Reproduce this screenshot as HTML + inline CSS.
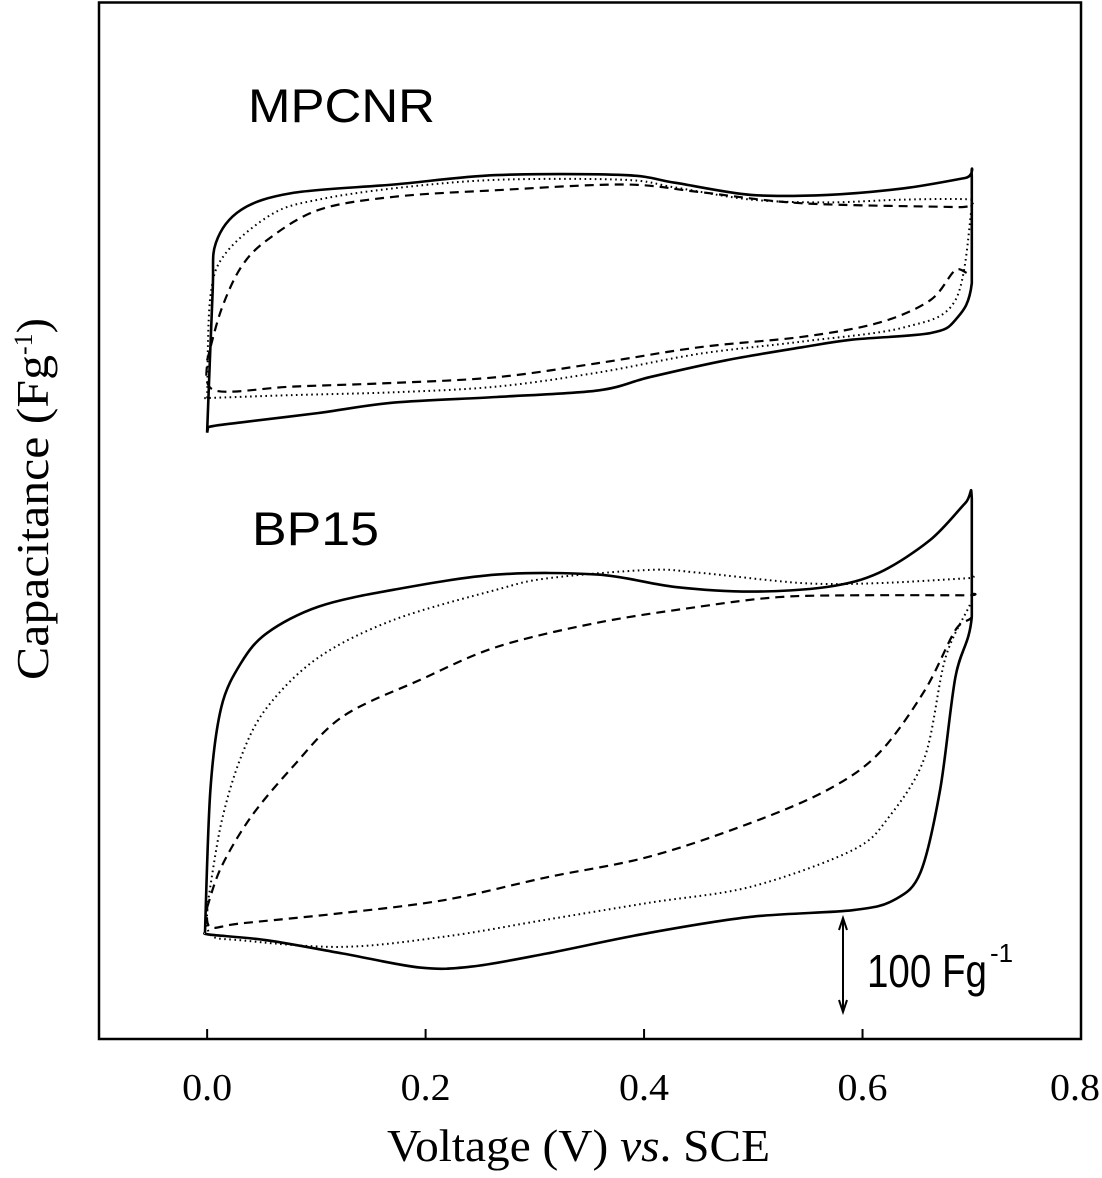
<!DOCTYPE html>
<html><head><meta charset="utf-8"><style>
html,body{margin:0;padding:0;background:#fff;}
svg{display:block;}
</style></head><body>
<svg id="chart" width="1102" height="1178" viewBox="0 0 1102 1178" xmlns="http://www.w3.org/2000/svg">
<rect x="0" y="0" width="1102" height="1178" fill="#fff"/>
<rect x="99" y="2.5" width="982" height="1036.5" fill="none" stroke="#000" stroke-width="2.5"/>
<g id="ticks"></g>
<g id="curves"></g>
<text x="248" y="122" font-family="Liberation Sans, sans-serif" font-size="47" textLength="187" lengthAdjust="spacingAndGlyphs">MPCNR</text>
<text x="252" y="545" font-family="Liberation Sans, sans-serif" font-size="47" textLength="127" lengthAdjust="spacingAndGlyphs">BP15</text>
<g stroke="#000" stroke-width="2" fill="none">
<line x1="843" y1="918" x2="843" y2="1012"/>
<polyline points="839,930 843,918 847,930"/>
<polyline points="839,1000 843,1012 847,1000"/>
</g>
<text x="867" y="987" font-family="Liberation Sans, sans-serif" font-size="46" textLength="120" lengthAdjust="spacingAndGlyphs">100 Fg</text>
<text x="990" y="962" font-family="Liberation Sans, sans-serif" font-size="26">-1</text>
<text x="387" y="1161" font-family="Liberation Serif, serif" font-size="46" textLength="383" lengthAdjust="spacingAndGlyphs">Voltage (V) <tspan font-style="italic">vs</tspan>. SCE</text>
<text transform="translate(48,680) rotate(-90)" font-family="Liberation Serif, serif" font-size="46"><tspan textLength="325" lengthAdjust="spacingAndGlyphs">Capacitance (Fg</tspan><tspan dy="-16" font-size="26">-1</tspan><tspan dy="16">)</tspan></text>
</svg>
<script>
const xTicks=[0.0,0.2,0.4,0.6,0.8];
const xTickLabels=["0.0","0.2","0.4","0.6","0.8"];
// MPCNR solid
const mpSolidV=[0,0.005,0.008,0.031,0.078,0.171,0.265,0.382,0.428,0.498,0.568,0.638,0.694,0.7,0.7,0.685,0.662,0.591,0.545,0.475,0.405,0.358,0.265,0.171,0.102,0.031,0.001,0];
const mpSolidC=[645,794,847,882,900,909,919,919,911,898,898,905,916,918,804,765,751,744,736,722,704,690,683,677,666,656,651,645];
// MPCNR dotted
const mpDotV=[0,0.003,0.017,0.06,0.102,0.171,0.265,0.382,0.428,0.498,0.568,0.638,0.7,0.7,0.685,0.638,0.545,0.451,0.358,0.265,0.171,0.078,0.003,0];
const mpDotC=[682,790,836,878,893,905,914,914,906,893,890,893,893,885,786,757,742,729,709,694,688,685,682,682];
// MPCNR dashed
const mpDashV=[0,0.013,0.031,0.055,0.102,0.171,0.265,0.382,0.451,0.545,0.685,0.7,0.7,0.685,0.662,0.615,0.545,0.451,0.358,0.265,0.171,0.078,0.007,0];
const mpDashC=[722,776,821,850,882,896,903,909,901,889,885,884,818,818,786,762,747,736,719,704,698,694,690,722];
// BP15 solid
const bpSolidV=[-0.002,0.003,0.013,0.031,0.055,0.102,0.171,0.265,0.358,0.428,0.498,0.568,0.615,0.662,0.694,0.7,0.7,0.685,0.671,0.653,0.629,0.591,0.498,0.405,0.311,0.242,0.195,0.124,0.055,0.003,-0.002];
const bpSolidC=[113,265,353,400,432,460,478,494,494,481,476,481,496,531,570,575,449,385,265,177,148,137,130,113,91,77,76,91,105,111,113];
// BP15 dotted
const bpDotV=[0,0.013,0.031,0.055,0.102,0.171,0.265,0.311,0.405,0.451,0.545,0.615,0.694,0.7,0.7,0.676,0.657,0.624,0.591,0.498,0.405,0.311,0.218,0.124,0.031,0.003,0];
const bpDotC=[140,230,300,353,406,446,478,490,499,496,485,485,490,490,467,406,300,236,201,162,145,127,109,98,105,111,140];
// BP15 dashed
const bpDashV=[0,0.013,0.040,0.078,0.124,0.195,0.265,0.358,0.451,0.522,0.591,0.694,0.7,0.7,0.685,0.657,0.615,0.568,0.498,0.405,0.311,0.218,0.124,0.031,0.003,0];
const bpDashC=[140,183,236,289,343,382,417,443,460,470,472,472,472,449,435,371,304,265,230,194,172,148,134,123,119,140];

const X0=-0.099,X1=0.8,PX0=99,PX1=1081;
function xScale(v){return PX0+(v-X0)/(X1-X0)*(PX1-PX0);}
function yScale(c){return 1039-c*0.94;}
const NS="http://www.w3.org/2000/svg";
const tickG=document.getElementById('ticks');
xTicks.forEach((t,i)=>{
  const x=xScale(t);
  if(i<xTicks.length-1){
    const l=document.createElementNS(NS,'line');
    
    
    l.setAttribute('x1',x);l.setAttribute('x2',x);l.setAttribute('y1',1039);l.setAttribute('y2',1029);
    l.setAttribute('stroke','#000');l.setAttribute('stroke-width','2');
    tickG.appendChild(l);
  }
  const tx=document.createElementNS(NS,'text');
  
  
  tx.setAttribute('x',Math.min(x,1075));tx.setAttribute('y',1100);
  tx.setAttribute('text-anchor','middle');
  tx.setAttribute('font-family','Liberation Serif, serif');
  tx.setAttribute('font-size','38');
  tx.setAttribute('textLength','50');
  tx.setAttribute('lengthAdjust','spacingAndGlyphs');
  tx.textContent=xTickLabels[i];
  tickG.appendChild(tx);
});
function smoothPath(vs,cs){
  const p=vs.map((v,i)=>[xScale(v),yScale(cs[i])]);
  let d='M'+p[0][0].toFixed(1)+','+p[0][1].toFixed(1);
  for(let i=0;i<p.length-1;i++){
    const a=p[Math.max(0,i-1)],b=p[i],c=p[i+1],e=p[Math.min(p.length-1,i+2)];
    const sharp=Math.abs(b[0]-c[0])<3;
    if(sharp){d+=' L'+c[0].toFixed(1)+','+c[1].toFixed(1);continue;}
    const t=0.16;
    const c1=[b[0]+(c[0]-a[0])*t,b[1]+(c[1]-a[1])*t];
    const c2=[c[0]-(e[0]-b[0])*t,c[1]-(e[1]-b[1])*t];
    d+=' C'+c1[0].toFixed(1)+','+c1[1].toFixed(1)+' '+c2[0].toFixed(1)+','+c2[1].toFixed(1)+' '+c[0].toFixed(1)+','+c[1].toFixed(1);
  }
  return d;
}
const g=document.getElementById('curves');
function addCurve(vs,cs,name,dash,w){
  const p=document.createElementNS(NS,'path');
  
  
  p.setAttribute('d',smoothPath(vs,cs));
  p.setAttribute('fill','none');
  p.setAttribute('stroke','#000');
  p.setAttribute('stroke-width',w);
  if(dash)p.setAttribute('stroke-dasharray',dash);
  g.appendChild(p);
}
addCurve(mpDotV,mpDotC,'mpcnr-dotted-curve','1.6,3.5','2');
addCurve(mpDashV,mpDashC,'mpcnr-dashed-curve','9,6','2.2');
addCurve(mpSolidV,mpSolidC,'mpcnr-solid-curve',null,'2.6');
addCurve(bpDotV,bpDotC,'bp15-dotted-curve','1.6,3.5','2');
addCurve(bpDashV,bpDashC,'bp15-dashed-curve','9,6','2.2');
addCurve(bpSolidV,bpSolidC,'bp15-solid-curve',null,'2.6');
</script>
</body></html>
